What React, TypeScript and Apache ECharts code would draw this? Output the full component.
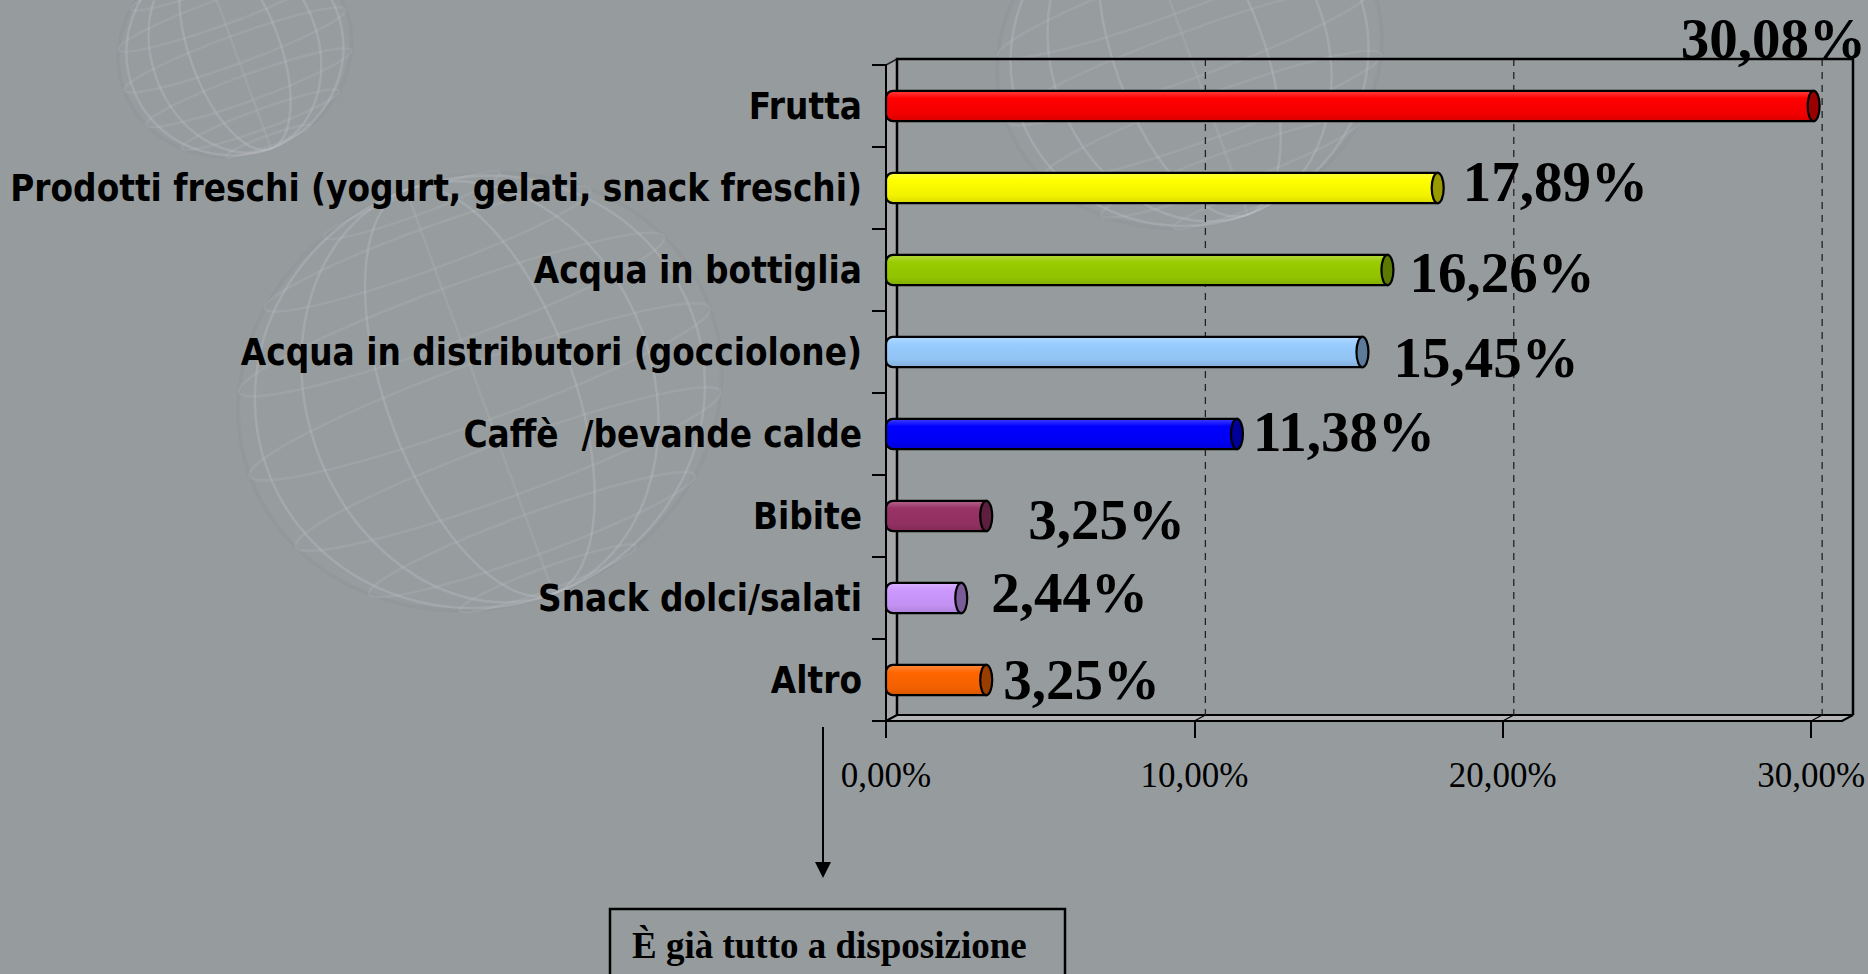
import React, { useEffect, useRef } from "react";
import * as echarts from "echarts";

// ---- data ----
const categories = [
  "Frutta",
  "Prodotti freschi (yogurt, gelati, snack freschi)",
  "Acqua in bottiglia",
  "Acqua in distributori (gocciolone)",
  "Caffè  /bevande calde",
  "Bibite",
  "Snack dolci/salati",
  "Altro",
];
const values = [30.08, 17.89, 16.26, 15.45, 11.38, 3.25, 2.44, 3.25];
const tickValues = [0, 10, 20, 30];
const noteText = "È già tutto a disposizione";

// ---- styles ----
const bodyColors = ["#ff0000", "#ffff00", "#99cc00", "#99ccff", "#0000ff", "#993366", "#cc99ff", "#ff6600"];
const capColors = ["#990000", "#999900", "#5c7a00", "#5c7a99", "#000099", "#5c1f3d", "#7a5c99", "#993d00"];
const labelDx = [-133, 25, 22, 31, 16, 42, 30, 17];
const labelDy = [-68, -7, 2, 5, -3, 3, -6, -1];
const BG = "#969c9e";
const DEPTH_X = 11;
const DEPTH_Y = -6;

const fmtPct = (v: number) => v.toFixed(2).replace(".", ",") + "%";

function lighten(hex: string, amt: number) {
  const n = parseInt(hex.slice(1), 16);
  let r = (n >> 16) & 255, g = (n >> 8) & 255, b = n & 255;
  r = Math.round(r + (255 - r) * amt);
  g = Math.round(g + (255 - g) * amt);
  b = Math.round(b + (255 - b) * amt);
  return `rgb(${r},${g},${b})`;
}
function darken(hex: string, amt: number) {
  const n = parseInt(hex.slice(1), 16);
  const r = Math.round(((n >> 16) & 255) * (1 - amt));
  const g = Math.round(((n >> 8) & 255) * (1 - amt));
  const b = Math.round((n & 255) * (1 - amt));
  return `rgb(${r},${g},${b})`;
}

function sphere(cx: number, cy: number, rx: number, ry: number) {
  const els: any[] = [];
  const stroke = "rgba(205,210,215,0.13)";
  const dark = "rgba(120,125,130,0.12)";
  els.push({ type: "ellipse", shape: { cx, cy, rx, ry }, style: { fill: "rgba(165,170,175,0.10)", stroke: dark, lineWidth: 4 }, silent: true });
  for (let k = 1; k < 8; k++) {
    const f = Math.cos((k * Math.PI) / 8);
    els.push({ type: "ellipse", shape: { cx, cy, rx: Math.abs(rx * f), ry }, style: { fill: "none", stroke, lineWidth: 2.5 }, silent: true });
  }
  for (let k = 1; k < 8; k++) {
    const t = (k * Math.PI) / 8;
    const yy = cy - ry * Math.cos(t);
    const w = rx * Math.sin(t);
    els.push({ type: "ellipse", shape: { cx, cy: yy, rx: w, ry: w * 0.12 }, style: { fill: "none", stroke, lineWidth: 2.5 }, silent: true });
  }
  return { type: "group", rotation: 0.35, originX: cx, originY: cy, children: els, z: -10, silent: true };
}

export default function App() {
  const ref = useRef<HTMLDivElement>(null);
  useEffect(() => {
    if (!ref.current) return;
    const chart = echarts.init(ref.current, undefined, { renderer: "svg" });

    const barData = values.map((v, i) => [v, i]);

    const option: any = {
      animation: false,
      backgroundColor: BG,
      grid: { left: 886, right: 26, top: 65, bottom: 253, outerBoundsMode: "none", containLabel: false },
      xAxis: {
        type: "value",
        min: 0,
        max: 31,
        z: 4,
        axisLine: { show: true, lineStyle: { color: "#000", width: 2 } },
        axisTick: { show: true, customValues: tickValues, length: 17, lineStyle: { color: "#000", width: 2 } },
        axisLabel: {
          customValues: tickValues,
          formatter: (v: number) => fmtPct(v),
          color: "#000",
          fontFamily: "'Liberation Serif', 'Times New Roman', serif",
          fontSize: 35,
          margin: 37,
        },
        splitLine: { show: false },
      },
      yAxis: {
        type: "category",
        data: categories,
        inverse: true,
        z: 4,
        axisLine: { show: true, lineStyle: { color: "#000", width: 2 } },
        axisTick: { show: true, length: 14, lineStyle: { color: "#000", width: 2 } },
        axisLabel: {
          color: "#000",
          fontFamily: "'DejaVu Sans Condensed', 'DejaVu Sans', sans-serif",
          fontWeight: "bold",
          fontSize: 36.5,
          margin: 24,
        },
      },
      graphic: [
        sphere(235, 50, 118, 105),
        sphere(480, 392, 245, 215),
        sphere(1190, 55, 195, 170),
        { type: "line", shape: { x1: 823, y1: 727, x2: 823, y2: 866 }, style: { stroke: "#000", lineWidth: 2 }, z: 5 },
        { type: "polygon", shape: { points: [[815, 862], [831, 862], [823, 878]] }, style: { fill: "#000" }, z: 5 },
        { type: "rect", shape: { x: 610, y: 909, width: 455, height: 90 }, style: { fill: "none", stroke: "#000", lineWidth: 2.5 }, z: 5 },
        {
          type: "text",
          x: 632,
          y: 945,
          style: {
            text: noteText,
            fill: "#000",
            font: "bold 37px 'Liberation Serif', 'Times New Roman', serif",
            verticalAlign: "middle",
            align: "left",
          },
          z: 5,
        },
      ],
      series: [
        {
          type: "custom",
          name: "walls",
          z: 1,
          silent: true,
          data: [[0, 0]],
          renderItem: (params: any, api: any) => {
            const cs = params.coordSys;
            const x0 = cs.x, y0 = cs.y, x1 = cs.x + cs.width, y1 = cs.y + cs.height;
            const dx = DEPTH_X, dy = DEPTH_Y;
            const children: any[] = [];
            children.push({
              type: "polygon",
              shape: { points: [[x0, y0], [x0 + dx, y0 + dy], [x0 + dx, y1 + dy], [x0, y1]] },
              style: { fill: "#a4a6a8", stroke: "#222", lineWidth: 1.5 },
            });
            children.push({
              type: "polygon",
              shape: { points: [[x0, y1], [x0 + dx, y1 + dy], [x1 + dx, y1 + dy], [x1, y1]] },
              style: { fill: "#b3b5b6", stroke: "#000", lineWidth: 2 },
            });
            tickValues.forEach((t) => {
              if (t === 0) return;
              const px = api.coord([t, 0])[0];
              children.push({
                type: "line",
                shape: { x1: px + dx, y1: y0 + dy, x2: px + dx, y2: y1 + dy },
                style: { stroke: "#222", lineWidth: 1.3, lineDash: [7, 6] },
              });
              children.push({
                type: "line",
                shape: { x1: px, y1: y1, x2: px + dx, y2: y1 + dy },
                style: { stroke: "#000", lineWidth: 1.2 },
              });
            });
            children.push({
              type: "polyline",
              shape: { points: [[x0 + dx, y1 + dy], [x0 + dx, y0 + dy], [x1 + dx, y0 + dy], [x1 + dx, y1 + dy]] },
              style: { fill: "none", stroke: "#000", lineWidth: 2.5 },
            });
            return { type: "group", children };
          },
        },
        {
          type: "custom",
          name: "values",
          z: 3,
          encode: { x: 0, y: 1 },
          data: barData,
          renderItem: (params: any, api: any) => {
            const i = params.dataIndex;
            const v = api.value(0);
            const c = api.value(1);
            const start = api.coord([0, c]);
            const end = api.coord([v, c]);
            const band = api.size([0, 1])[1];
            const h = band * 0.37;
            const top = end[1] - h / 2;
            const col = bodyColors[i];
            const fill = new echarts.graphic.LinearGradient(0, 0, 0, 1, [
              { offset: 0, color: lighten(col, 0.25) },
              { offset: 0.25, color: col },
              { offset: 0.75, color: darken(col, 0.05) },
              { offset: 1, color: darken(col, 0.15) },
            ]);
            const rx = 6;
            return {
              type: "group",
              children: [
                {
                  type: "rect",
                  shape: { x: start[0], y: top, width: end[0] - start[0], height: h, r: [7, 0, 0, 7] },
                  style: { fill, stroke: "#000", lineWidth: 2.2 },
                },
                {
                  type: "ellipse",
                  shape: { cx: end[0], cy: end[1], rx, ry: h / 2 },
                  style: { fill: capColors[i], stroke: "#000", lineWidth: 2.2 },
                },
                {
                  type: "text",
                  x: end[0] + labelDx[i],
                  y: end[1] + labelDy[i],
                  style: {
                    text: fmtPct(v),
                    fill: "#000",
                    font: "bold 57px 'Liberation Serif', 'Times New Roman', serif",
                    align: "left",
                    verticalAlign: "middle",
                  },
                },
              ],
            };
          },
        },
      ],
    };
    chart.setOption(option);
    return () => chart.dispose();
  }, []);

  return (
    <div
      ref={ref}
      style={{ position: "fixed", left: 0, top: 0, width: 1868, height: 974 }}
    />
  );
}
